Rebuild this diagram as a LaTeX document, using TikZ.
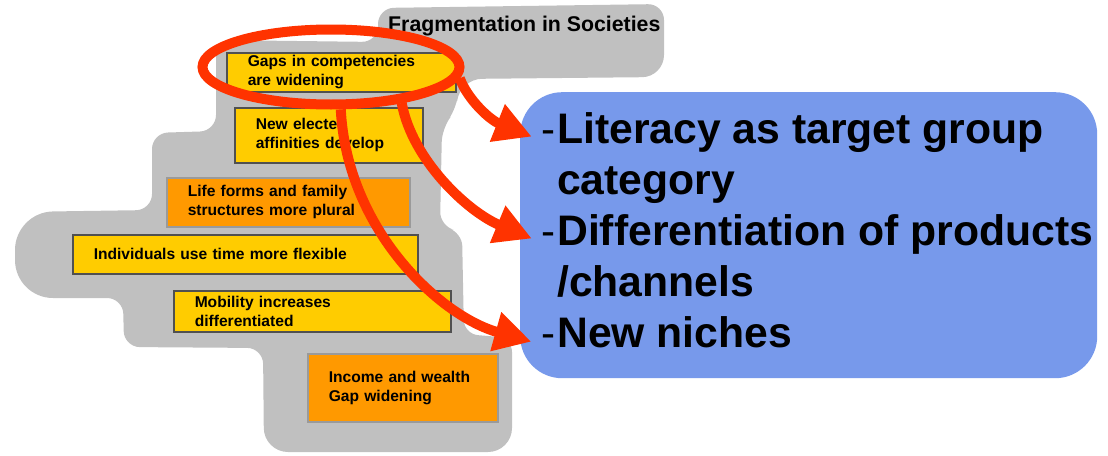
\documentclass[tikz,border=0pt]{standalone}
\usepackage{fontspec}
\setmainfont{Liberation Sans}
\usetikzlibrary{arrows.meta,shapes.geometric}
\definecolor{blobgray}{HTML}{C0C0C0}
\definecolor{boxyellow}{HTML}{FFCC00}
\definecolor{boxorange}{HTML}{FF9900}
\definecolor{hlred}{HTML}{FF3300}
\definecolor{panelblue}{HTML}{7799EB}
\definecolor{edgedark}{HTML}{505050}
\definecolor{edgelight}{HTML}{9A9A9A}
\begin{document}
\begin{tikzpicture}[x=1pt,y=-1pt,
  fbox/.style={anchor=north west, inner xsep=21pt, inner ysep=0pt, align=left,
    font=\fontsize{15.6}{18.8}\selectfont\bfseries, line width=1.5pt},
  ybox/.style={fbox, fill=boxyellow, draw=edgedark},
  obox/.style={fbox, fill=boxorange, draw=edgelight},
  itemtext/.style={anchor=base west, inner sep=0pt, font=\fontsize{42.7}{51}\selectfont\bfseries},
  dashmark/.style={anchor=base west, inner sep=0pt, font=\fontsize{42}{51}\selectfont},
  arr/.style={draw=hlred, line width=10pt, -{Triangle[length=37pt,width=38pt]}, shorten >=10pt}]
\useasboundingbox (0,0) rectangle (1108,455);
% grey background blob
\fill[blobgray, rounded corners=16pt]
 (378,42) -- (378,8) -- (664,4) [rounded corners=22pt] -- (664,77) -- (460,79) [rounded corners=14pt] -- (456,110) -- (442,128)
 -- (440,226) -- (462,232) -- (464,334) -- (512,338) [rounded corners=24pt] -- (512,452) -- (264,452)
 [rounded corners=16pt] -- (263,348) -- (124,347) -- (123,298) [rounded corners=38pt] -- (15,298) -- (15,212)
 [rounded corners=16pt] -- (152,210) -- (152,133) -- (216,131) -- (216,40) -- cycle;
% title
\node[anchor=base west, inner sep=0pt, font=\fontsize{21.3}{25}\selectfont\bfseries] (title) at (388,31) {Fragmentation in Societies};
% boxes
\node[ybox, text width=187pt, minimum height=39pt] (b1) at (226,52) {Gaps in competencies\\are widening};
\node[ybox, text width=146pt, minimum height=55pt] (b2) at (234,107) {New elected\\affinities develop};
\node[obox, text width=201pt, minimum height=49pt] (b3) at (166,177) {Life forms and family\\structures more plural};
\node[ybox, text width=303pt, minimum height=39pt] (b4) at (72,234) {Individuals use time more flexible};
\node[ybox, text width=235pt, minimum height=41pt] (b5) at (173,290) {Mobility increases\\differentiated};
\node[obox, text width=148pt, minimum height=68pt] (b6) at (307,353) {Income and wealth\\Gap widening};
% blue panel
\node[anchor=north west, fill=panelblue, rounded corners=42pt, minimum width=577pt, minimum height=286pt, inner sep=0pt] (panel) at (520,92) {};
\node[dashmark] (d1) at (541,143) {-};
\node[itemtext] (t1a) at (557,143) {Literacy as target group};
\node[itemtext] (t1b) at (557,194) {category};
\node[dashmark] (d2) at (541,245) {-};
\node[itemtext] (t2a) at (557,245) {Differentiation of products};
\node[itemtext] (t2b) at (557,296) {/channels};
\node[dashmark] (d3) at (541,347) {-};
\node[itemtext] (t3a) at (557,347) {New niches};
% highlight ellipse
\node[ellipse, draw=hlred, line width=10pt, minimum width=257pt, minimum height=75pt, inner sep=0pt] (ell) at (331,67) {};
% arrows
\draw[arr] (ell.-5) .. controls (468,100) and (490,120) .. (d1.mid west);
\draw[arr] (ell.-27) .. controls (412,160) and (468,212) .. (d2.mid west);
\draw[arr] (ell.-77) .. controls (347,230) and (440,316) .. (d3.mid west);
\end{tikzpicture}
\end{document}
